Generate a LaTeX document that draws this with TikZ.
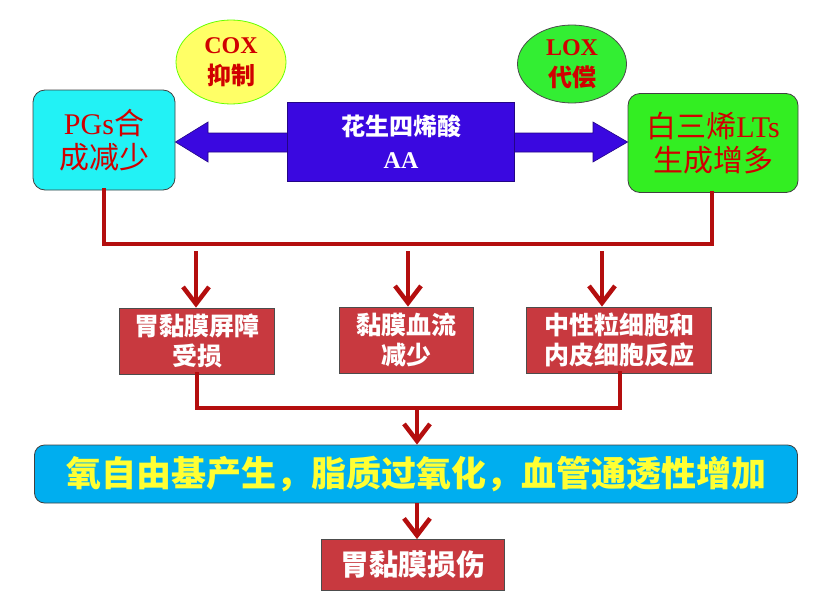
\documentclass[tikz,border=0pt]{standalone}
\usepackage{fontspec}
\setmainfont{Liberation Serif}
\newfontfamily\cjk{Noto Sans CJK SC}
\usetikzlibrary{arrows.meta,shapes.geometric}
\definecolor{cyanbox}{HTML}{22F2F5}
\definecolor{greenbox}{HTML}{33EE22}
\definecolor{loxgreen}{HTML}{33EE33}
\definecolor{coxyellow}{HTML}{FFFF66}
\definecolor{aablue}{HTML}{3A08E0}
\definecolor{darkred}{HTML}{B40E0E}
\definecolor{crimson}{HTML}{C8393F}
\definecolor{skyblue}{HTML}{00AEEF}
\definecolor{txtred}{HTML}{D00000}
\definecolor{txtyellow}{HTML}{FFFF33}
\tikzset{
  redline/.style={draw=darkred, line width=4pt},
  redarrow/.style={redline, -{Straight Barb[length=17pt,width=26pt,line width=4.5pt]}},
  topbox/.style={rounded corners=12pt, draw=black!75, line width=0.8pt, align=center, text=txtred, inner sep=0pt},
  redbox/.style={fill=crimson, draw=black!70, line width=0.8pt, align=center, text=white, inner sep=0pt,
     font=\cjk\bfseries\fontsize{25}{30}\selectfont},
  oval/.style={ellipse, line width=0.8pt, align=center, text=txtred, inner sep=0pt,
     font=\bfseries\fontsize{24}{31}\selectfont},
}
\begin{document}
\begin{tikzpicture}[x=1pt,y=-1pt]
\useasboundingbox (0,0) rectangle (827,597);
% ovals
\node[oval, fill=coxyellow, draw=green!60!yellow, minimum width=110pt, minimum height=84pt] (cox) at (231,62)
  {COX\\{\cjk\bfseries 抑制}};
\node[oval, fill=loxgreen, draw=black!70, minimum width=109pt, minimum height=78pt] (lox) at (572,64)
  {LOX\\{\cjk\bfseries 代偿}};
% top boxes
\node[topbox, fill=cyanbox, minimum width=142pt, minimum height=100pt, font=\fontsize{30}{34}\selectfont] (pgs) at (104,140)
  {PGs{\cjk 合}\\{\cjk 成减少}};
\node[topbox, fill=greenbox, minimum width=170pt, minimum height=99pt, font=\fontsize{30}{34}\selectfont] (lts) at (713,143)
  {{\cjk 白三烯}LTs\\{\cjk 生成增多}};
% blue double arrow
\fill[aablue, draw=aablue!60!black, line width=0.6pt]
  (295,133) -- (208,133) -- (208,122) -- (pgs.east |- 0,142) -- (208,162) -- (208,152) -- (295,152) -- cycle;
\fill[aablue, draw=aablue!60!black, line width=0.6pt]
  (508,133) -- (593,133) -- (593,122) -- (lts.west |- 0,142) -- (593,162) -- (593,152) -- (508,152) -- cycle;
\node[fill=aablue, draw=aablue!60!black, line width=0.6pt, minimum width=227pt, minimum height=79pt, align=center,
  text=white, inner sep=0pt, font=\bfseries\fontsize{24}{33}\selectfont] (aa) at (401,142)
  {{\cjk\bfseries 花生四烯酸}\\AA};
% collector line
\coordinate (hl) at (104,244);
\coordinate (hr) at (712,244);
\draw[redline, line cap=rect] (pgs.south) -- (hl) -- (hr) -- (lts.south -| hr);
% middle boxes
\node[redbox, minimum width=155pt, minimum height=66pt] (b1) at (197,341) {胃黏膜屏障\\受损};
\node[redbox, minimum width=134pt, minimum height=66pt] (b2) at (406,340) {黏膜血流\\减少};
\node[redbox, minimum width=185pt, minimum height=66pt] (b3) at (619,340) {中性粒细胞和\\内皮细胞反应};
\coordinate (s1) at (196,251);
\coordinate (s2) at (408,251);
\coordinate (s3) at (602,251);
\draw[redarrow] (s1) -- (s1 |- b1.north);
\draw[redarrow] (s2) -- (s2 |- b2.north);
\draw[redarrow] (s3) -- (s3 |- b3.north);
% bottom collector
\coordinate (bl) at (197,408);
\coordinate (br) at (620,408);
\coordinate (bm) at (417,408);
\draw[redline, line cap=rect] (b1.south -| bl) -- (bl) -- (br) -- (b3.south -| br);
\node[fill=skyblue, draw=black!75, line width=0.8pt, rounded corners=10pt, minimum width=763pt, minimum height=58pt,
  inner sep=0pt, text=txtyellow, font=\cjk\bfseries\fontsize{35}{40}\selectfont] (big) at (416,474)
  {氧自由基产生，脂质过氧化，血管通透性增加};
\draw[redarrow] (bm) -- (bm |- big.north);
\node[redbox, minimum width=183pt, minimum height=51pt, font=\cjk\bfseries\fontsize{29}{34}\selectfont] (fin) at (413,565) {胃黏膜损伤};
\draw[redarrow] (big.south -| bm) -- (bm |- fin.north);
\end{tikzpicture}
\end{document}
